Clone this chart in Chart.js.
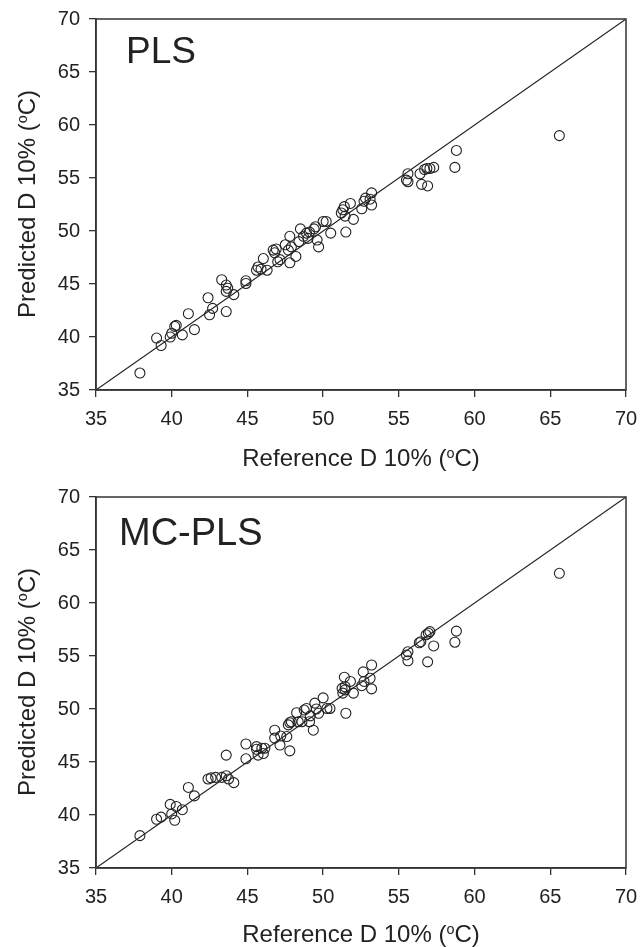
<!DOCTYPE html>
<html>
<head>
<meta charset="utf-8">
<script src="https://cdn.jsdelivr.net/npm/chart.js@4.4.1/dist/chart.umd.min.js"></script>
<style>
  html, body { margin: 0; padding: 0; background: #fff; }
  body { width: 641px; height: 947px; position: relative; overflow: hidden;
         font-family: "Liberation Sans", Arial, sans-serif; color: #222; }
  .panel { position: absolute; left: 0; width: 641px; }
  .lbl { position: absolute; white-space: nowrap; line-height: 1; }
  .xt { font-size: 24px; width: 400px; text-align: center; left: 161px; }
  .yt { font-size: 24px; width: 400px; text-align: center; transform: rotate(-90deg); left: -173px; }
  .tag { font-size: 37px; }
  sup { font-size: 60%; line-height: 0; vertical-align: 0.55em; }
</style>
</head>
<body>
<div class="panel" style="top:0;height:478px"><canvas id="plsChart"></canvas></div>
<div class="panel" style="top:478px;height:469px"><canvas id="mcChart"></canvas></div>

<div class="lbl tag" style="left:126px;top:32px">PLS</div>
<div class="lbl tag" style="left:119px;top:513px;font-size:38px">MC-PLS</div>
<div class="lbl xt" style="top:446px">Reference D 10% (<sup>o</sup>C)</div>
<div class="lbl xt" style="top:922px">Reference D 10% (<sup>o</sup>C)</div>
<div class="lbl yt" style="top:192px">Predicted D 10% (<sup>o</sup>C)</div>
<div class="lbl yt" style="top:670px">Predicted D 10% (<sup>o</sup>C)</div>

<script>
// --- data ---
const axisTicks = [35, 40, 45, 50, 55, 60, 65, 70];
const identityLine = [35, 70];

const plsRef  = [37.9, 39.0, 39.3, 39.9, 40.0, 40.2, 40.3, 40.7, 41.1, 41.5,
                 42.4, 42.5, 42.7, 43.3, 43.6, 43.6, 43.7, 43.6, 44.1, 44.9,
                 44.9, 45.6, 45.7, 46.05, 46.3, 45.9, 46.7, 46.8, 46.9, 47.0,
                 47.15, 47.5, 47.8, 47.8, 47.7, 47.9, 48.2, 48.4, 48.5, 48.7,
                 48.9, 49.0, 49.1, 49.4, 49.5, 49.6, 49.7, 50.0, 50.2, 50.5,
                 51.2, 51.3, 51.4, 51.45, 51.5, 51.8, 52.0, 52.55, 52.7, 52.8,
                 53.1, 53.2, 53.2, 55.5, 55.6, 55.6, 56.4, 56.5, 56.9, 56.7,
                 56.85, 57.05, 57.3, 58.7, 58.8, 65.6];
const plsPred = [36.6, 39.9, 39.2, 40.0, 40.35, 41.0, 41.1, 40.2, 42.2, 40.7,
                 43.7, 42.1, 42.7, 45.4, 42.4, 44.9, 44.6, 44.3, 44.0, 45.3,
                 45.05, 46.3, 46.6, 47.4, 46.3, 46.4, 48.2, 47.95, 48.3, 47.1,
                 47.3, 48.7, 49.5, 47.0, 48.2, 48.5, 47.6, 49.0, 50.2, 49.5,
                 49.8, 49.3, 49.9, 50.2, 50.4, 49.15, 48.5, 50.9, 50.9, 49.8,
                 51.7, 52.0, 52.3, 51.4, 49.9, 52.6, 51.1, 52.1, 52.8, 53.1,
                 53.0, 53.6, 52.45, 54.8, 54.65, 55.4, 55.4, 54.4, 54.25, 55.8,
                 55.9, 55.9, 56.0, 56.0, 57.6, 59.0];

const mcRef  = [37.9, 39.0, 39.3, 39.9, 40.0, 40.2, 40.3, 40.7, 41.1, 41.5,
                42.4, 42.6, 42.9, 43.3, 43.6, 43.6, 43.75, 44.1, 44.9, 44.9,
                45.6, 45.6, 45.7, 45.95, 46.05, 46.15, 46.8, 46.8, 47.15, 47.2,
                47.6, 47.8, 47.7, 47.8, 47.9, 48.25, 48.35, 48.6, 48.75, 48.9,
                49.1, 49.15, 49.35, 49.45, 49.55, 49.7, 50.0, 50.25, 50.45, 51.25,
                51.3, 51.45, 51.45, 51.5, 51.4, 51.8, 52.0, 52.55, 52.7, 52.65,
                53.1, 53.2, 53.2, 55.5, 55.6, 55.6, 56.35, 56.45, 56.8, 56.95,
                57.05, 56.9, 57.3, 58.7, 58.8, 65.6];
const mcPred = [38.05, 39.6, 39.8, 41.0, 40.1, 39.5, 40.8, 40.5, 42.6, 41.8,
                43.4, 43.5, 43.55, 43.55, 45.65, 43.7, 43.4, 43.05, 46.7, 45.3,
                46.45, 46.2, 45.65, 46.3, 45.8, 46.3, 48.0, 47.25, 46.6, 47.45,
                47.4, 46.05, 48.5, 48.7, 48.8, 49.65, 48.8, 48.8, 49.9, 50.05,
                48.8, 49.35, 48.0, 50.55, 50.0, 49.6, 51.05, 50.05, 50.05, 51.95,
                51.5, 52.1, 51.8, 49.6, 53.0, 52.6, 51.5, 52.2, 52.6, 53.5,
                52.9, 54.15, 51.9, 55.1, 54.55, 55.4, 56.25, 56.35, 57.0, 57.15,
                57.3, 54.45, 55.95, 56.3, 57.35, 62.8];

const INK = '#222';

// frame around the plot area (top and right sides included)
const framePlugin = {
  id: 'frame',
  afterDatasetsDraw(chart) {
    const { ctx, chartArea: a } = chart;
    ctx.save();
    ctx.strokeStyle = '#333';
    ctx.lineWidth = 1.5;
    ctx.strokeRect(a.left, a.top, a.right - a.left, a.bottom - a.top);
    ctx.restore();
  }
};

function axis(xHeight, isX) {
  return {
    type: 'linear', min: 35, max: 70,
    afterBuildTicks: s => { s.ticks = axisTicks.map(v => ({ value: v })); },
    afterFit: s => {
      // fixed plot box: ignore the extra room Chart.js wants for end labels
      if (isX) { s.height = xHeight; s.paddingLeft = 0; s.paddingRight = 0; }
      else { s.width = 96; s.paddingTop = 0; s.paddingBottom = 0; }
    },
    grid: { display: true, drawOnChartArea: false, drawTicks: true, tickLength: 7,
            color: '#333', lineWidth: 1.3 },
    border: { display: true, color: '#333', width: 1.5 },
    ticks: { color: INK, font: { family: 'Liberation Sans', size: 20 }, padding: isX ? 10 : 9 },
  };
}

function makePlot(canvasId, xs, ys, height, xHeight) {
  const el = document.getElementById(canvasId);
  el.width = 641; el.height = height;
  return new Chart(el, {
    type: 'scatter',
    data: {
      datasets: [
        {
          data: xs.map((x, i) => ({ x, y: ys[i] })),
          pointStyle: 'circle', pointRadius: 5, pointHoverRadius: 5,
          backgroundColor: 'rgba(0,0,0,0)', borderColor: INK, borderWidth: 1.1,
        },
        {
          type: 'line',
          data: identityLine.map(v => ({ x: v, y: v })),
          borderColor: INK, borderWidth: 1.1, pointRadius: 0, fill: false,
        },
      ],
    },
    options: {
      responsive: false, animation: false, devicePixelRatio: 1,
      layout: { padding: { top: 19, right: 15, left: 0, bottom: 0 } },
      plugins: { legend: { display: false }, tooltip: { enabled: false } },
      scales: { x: axis(xHeight, true), y: axis(xHeight, false) },
    },
    plugins: [framePlugin],
  });
}

makePlot('plsChart', plsRef, plsPred, 478, 88);
makePlot('mcChart', mcRef, mcPred, 469, 79);
</script>
</body>
</html>
